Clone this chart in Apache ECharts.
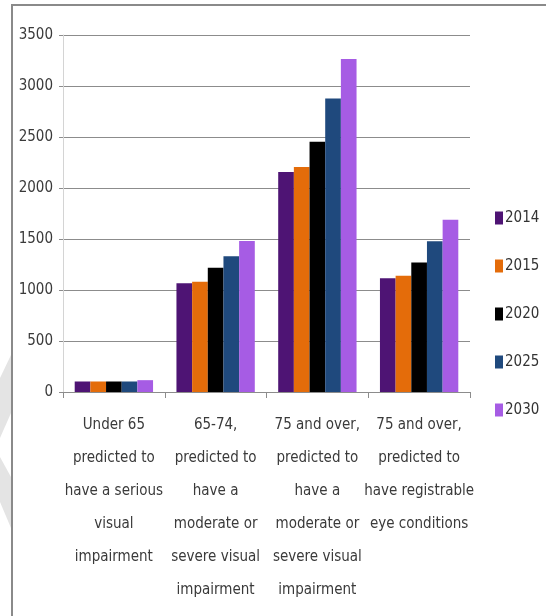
<!DOCTYPE html>
<html>
<head>
<meta charset="utf-8">
<script src="https://cdn.jsdelivr.net/npm/echarts@6/dist/echarts.min.js"></script>
<style>
html,body{margin:0;padding:0;background:#fff;}
#chart{width:546px;height:616px;}
</style>
</head>
<body>
<div id="chart"></div>
<script>
var categories = [
  'Under 65\npredicted to\nhave a serious\nvisual\nimpairment',
  '65-74,\npredicted to\nhave a\nmoderate or\nsevere visual\nimpairment',
  '75 and over,\npredicted to\nhave a\nmoderate or\nsevere visual\nimpairment',
  '75 and over,\npredicted to\nhave registrable\neye conditions'
];
var seriesNames = ['2014', '2015', '2020', '2025', '2030'];
var y2014 = [103, 1065, 2157, 1114];
var y2015 = [103, 1082, 2207, 1140];
var y2020 = [103, 1219, 2453, 1270];
var y2025 = [103, 1330, 2877, 1477];
var y2030 = [116, 1480, 3265, 1688];
var colors = ['#4e1474', '#e46c0a', '#000000', '#1f497d', '#a65ce4'];

var FONT = '"DejaVu Sans Condensed", "Liberation Sans Narrow", "Liberation Sans", sans-serif';
var allData = [y2014, y2015, y2020, y2025, y2030];

var chart = echarts.init(document.getElementById('chart'), null, {renderer: 'canvas'});
chart.setOption({
  animation: false,
  backgroundColor: '#ffffff',
  color: colors,
  graphic: [
    {type: 'polygon', z: 0, shape: {points: [[0,378],[11,355],[11,413],[0,438]]}, style: {fill: '#e4e4e4'}},
    {type: 'polygon', z: 0, shape: {points: [[0,457],[11,477],[11,528],[0,502]]}, style: {fill: '#e4e4e4'}},
    {type: 'rect', z: 100, shape: {x: 12, y: 5, width: 600, height: 700}, style: {fill: 'none', stroke: '#8a8a8a', lineWidth: 2}}
  ],
  grid: {left: 63, right: 76, top: 35, bottom: 224, containLabel: false},
  legend: {
    orient: 'vertical',
    left: 495,
    top: 208,
    padding: 0,
    itemWidth: 8,
    itemHeight: 13,
    itemGap: 28,
    icon: 'rect',
    textStyle: {fontFamily: FONT, fontSize: 15, lineHeight: 20, color: '#333333', padding: [0,0,0,-3]},
    data: seriesNames
  },
  xAxis: {
    type: 'category',
    data: categories,
    axisLine: {lineStyle: {color: '#8c8c8c', width: 1}},
    axisTick: {show: true, length: 6, lineStyle: {color: '#8c8c8c'}},
    axisLabel: {
      interval: 0,
      fontFamily: FONT,
      fontSize: 15,
      lineHeight: 33,
      color: '#3a3a3a',
      margin: 17
    }
  },
  yAxis: {
    type: 'value',
    min: 0,
    max: 3500,
    interval: 500,
    axisLine: {show: true, lineStyle: {color: '#d4d4d4', width: 1}},
    axisTick: {show: true, length: 4, lineStyle: {color: '#8c8c8c'}},
    splitLine: {lineStyle: {color: '#8c8c8c', width: 1}},
    axisLabel: {
      fontFamily: FONT, fontSize: 15, color: '#3a3a3a', margin: 10,
      formatter: function (v) { return String(v); }
    }
  },
  series: seriesNames.map(function (n, i) {
    return {
      name: n,
      type: 'bar',
      data: allData[i],
      barGap: '0%',
      barCategoryGap: '23%',
      itemStyle: {color: colors[i]}
    };
  })
});
</script>
</body>
</html>
